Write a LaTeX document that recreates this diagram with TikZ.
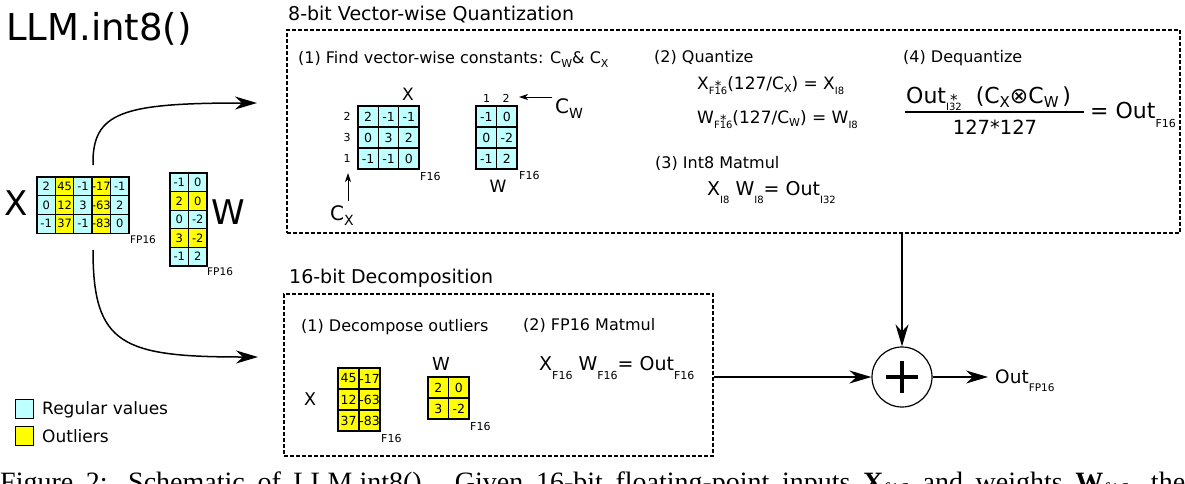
\documentclass[tikz,border=0pt]{standalone}
\usepackage{fontspec}
\setmainfont{DejaVu Sans}
\newfontfamily\capfont{Liberation Serif}
\usetikzlibrary{arrows.meta}
\definecolor{regc}{RGB}{190,255,255}
\definecolor{outc}{RGB}{255,255,0}
\newcommand{\fs}[1]{\fontsize{#1}{#1}\selectfont}
\newsavebox\sbx
\newcommand{\subs}[3]{\raisebox{-#2pt}{\fs{#1}#3}}
\newcommand{\subst}[5]{\sbox{\sbx}{\fs{#1}#3}\rlap{\makebox[\wd\sbx][c]{\raisebox{#5pt}{\fs{#4}*}}}\raisebox{-#2pt}{\usebox{\sbx}}}
\newcommand{\drawmat}[8]{%
  \foreach \v/\cl [count=\i from 0] in {#8} {
    \pgfmathtruncatemacro\cc{mod(\i,#6)}
    \pgfmathtruncatemacro\rr{div(\i,#6)}
    \node[mcell, fill=\cl, minimum width=#4pt, minimum height=#5pt, font=\fs{#7}] (#1-\rr-\cc) at ({#2+(\cc+0.5)*#4},{#3+(\rr+0.5)*#5}) {\v};
  }}
\tikzset{
  mcell/.style={draw, line width=1.1pt, inner sep=0pt, anchor=center},
  txt/.style={anchor=base west, inner sep=0pt},
  txtc/.style={anchor=base, inner sep=0pt},
  dbox/.style={draw, line width=2.5pt, dash pattern=on 4pt off 2pt, inner sep=0pt},
  arr/.style={line width=1.5pt, -{Stealth[length=22pt,width=13pt,inset=7pt]}},
  sarr/.style={line width=1pt, -{Stealth[length=9pt,width=6pt,inset=2.5pt]}},
}
\begin{document}
\begin{tikzpicture}[x=1pt,y=-1pt]
\useasboundingbox (0,0) rectangle (1185,483);
\fill[white] (0,0) rectangle (1185,483);

% title and headings
\node[txt, font=\fs{37}] (title) at (6,40) {LLM.int8()};
\node[txt, font=\fs{19}] (h1) at (288,20) {8-bit Vector-wise Quantization};
\node[txt, font=\fs{19}] (h2) at (289,283) {16-bit Decomposition};

% boxes
\node[dbox, minimum width=893pt, minimum height=203pt] (qbox) at (733.5,131.5) {};
\node[dbox, minimum width=429pt, minimum height=162pt] (dbx) at (498.5,375) {};

% left inputs
\node[txt, font=\fs{34}] (bigx) at (4,215) {X};
\drawmat{lx}{37}{177}{18.4}{18.7}{5}{11.5}{2/regc,45/outc,-1/regc,-17/outc,-1/regc,0/regc,12/outc,3/regc,-63/outc,2/regc,-1/regc,37/outc,-1/regc,-83/outc,0/regc}
\node[txt, font=\fs{10.5}] (lxf) at (130,243) {FP16};
\drawmat{lw}{170}{173}{18.5}{18.6}{2}{11.5}{-1/regc,0/regc,2/outc,0/outc,0/regc,-2/regc,3/outc,-2/outc,-1/regc,2/regc}
\node[txt, font=\fs{34}] (bigw) at (211,224) {W};
\node[txt, font=\fs{10.5}] (lwf) at (207,275) {FP16};

% curved connectors
\coordinate (xtop) at (93,165);
\coordinate (qin) at (257,103);
\coordinate (xbot) at (93,250);
\coordinate (din) at (258,357);
\draw[arr] (xtop) .. controls (92,112) and (122,103) .. (qin);
\draw[arr] (xbot) .. controls (93,345) and (122,357) .. (din);

% legend
\node[draw, line width=1pt, fill=regc, minimum width=18pt, minimum height=19pt, inner sep=0pt] (lg1) at (24,408.5) {};
\node[draw, line width=1pt, fill=outc, minimum width=18pt, minimum height=19pt, inner sep=0pt] (lg2) at (24,435.5) {};
\node[txt, font=\fs{17}] (lg1t) at (42,414) {Regular values};
\node[txt, font=\fs{17}] (lg2t) at (42,442) {Outliers};

% ---- top box contents
\node[txt, font=\fs{16}] (s1) at (298,63) {(1) Find vector-wise constants: C\subs{11}{4}{W}\& C\subs{11}{4}{X}};
\node[txtc, font=\fs{17}] (tx) at (408,100) {X};
\drawmat{tm}{358}{106}{20.33}{21}{3}{12.5}{2/regc,-1/regc,-1/regc,0/regc,3/regc,2/regc,-1/regc,-1/regc,0/regc}
\node[font=\fs{11}, inner sep=0pt] (r1) at (347,116.5) {2};
\node[font=\fs{11}, inner sep=0pt] (r2) at (347,137.5) {3};
\node[font=\fs{11}, inner sep=0pt] (r3) at (347,158.5) {1};
\node[txt, font=\fs{11}] (txf) at (420,180) {F16};
\node[txt, font=\fs{20}] (cx) at (330,220) {C\subs{14}{5}{X}};
\coordinate (cxs) at (348,201);
\draw[sarr] (cxs) -- (348,173);
\drawmat{tw}{476}{106}{20.5}{21}{2}{12.5}{-1/regc,0/regc,0/regc,-2/regc,-1/regc,2/regc}
\node[txtc, font=\fs{11}] (c1) at (486.5,102) {1};
\node[txtc, font=\fs{11}] (c2) at (506,102) {2};
\node[txt, font=\fs{20}] (cw) at (555,113) {C\subs{14}{5}{W}};
\coordinate (cws) at (552,97);
\coordinate (cwe) at (519,97);
\draw[sarr] (cws) -- (cwe);
\node[txtc, font=\fs{17}] (tw) at (498,192) {W};
\node[txt, font=\fs{11}] (twf) at (519,179) {F16};

\node[txt, font=\fs{16}] (s2) at (654,62) {(2) Quantize};
\node[txt, font=\fs{17}] (e1) at (697,89) {X\subst{10}{5}{F16}{13}{-1}(127/C\subs{11}{3}{X}) = X\subs{10}{5}{I8}};
\node[txt, font=\fs{17}] (e2) at (697,123) {W\subst{10}{5}{F16}{13}{-1}(127/C\subs{11}{3}{W}) = W\subs{10}{5}{I8}};
\node[txt, font=\fs{16}] (s3) at (655,168) {(3) Int8 Matmul};
\node[txt, font=\fs{19}] (e3) at (707,195) {X\subs{10}{8}{I8}\ W\subs{10}{8}{I8}= Out\subs{10}{8}{I32}};

\node[txt, font=\fs{16}] (s4) at (903,62) {(4) Dequantize};
\node[txt, font=\fs{22}] (num) at (906,103) {Out\subst{10}{7}{I32}{15}{-2}\ \ (C\subs{15}{4}{X}⊗C\subs{15}{4}{W}\,)};
\draw[line width=1.2pt] (905,112) -- (1084,112);
\node[txtc, font=\fs{19.5}] (den) at (995,134) {127*127};
\node[txt, font=\fs{22}] (rhs) at (1090,118) {= Out\subs{11}{9}{F16}};

% ---- bottom box contents
\node[txt, font=\fs{16}] (d1) at (301,331) {(1) Decompose outliers};
\node[txt, font=\fs{16}] (d2) at (523,330) {(2) FP16 Matmul};
\node[txt, font=\fs{17.5}] (bx) at (304,405) {X};
\drawmat{bm}{338}{368}{21}{21}{2}{12.5}{45/outc,-17/outc,12/outc,-63/outc,37/outc,-83/outc}
\node[txt, font=\fs{11}] (bxf) at (381,442) {F16};
\node[txt, font=\fs{18}] (bw) at (432,370) {W};
\drawmat{bwm}{428}{377}{20.5}{21}{2}{12.5}{2/outc,0/outc,3/outc,-2/outc}
\node[txt, font=\fs{11}] (bwf) at (470,430) {F16};
\node[txt, font=\fs{19}] (e5) at (539,370) {X\subs{11}{9}{F16}\ W\subs{11}{9}{F16}= Out\subs{11}{9}{F16}};

% ---- sum and output
\node[circle, draw, line width=1.2pt, minimum size=60pt, inner sep=0pt,
  path picture={\draw[line width=3.5pt] (path picture bounding box.center) ++(-16pt,0) -- ++(32pt,0);
                \draw[line width=3.5pt] (path picture bounding box.center) ++(0,-16pt) -- ++(0,32pt);}] (plus) at (902,377) {};
\draw[arr] (plus |- qbox.south) -- (plus.north);
\draw[arr] (dbx.east |- plus) -- (plus.west);
\node[txt, font=\fs{18.5}] (out) at (995,383) {Out\subs{10.5}{8}{FP16}};
\coordinate (outin) at (988,377);
\draw[arr] (plus.east) -- (outin);

% caption (cut off at the bottom edge)
\begin{scope}
\clip (0,0) rectangle (1185,483);
\node[txt, font=\capfont\fs{28}] (cap) at (0,491) {\hbox to 1185pt{Figure 2: Schematic of LLM.int8(). Given 16-bit floating-point inputs \textbf{X}\textsubscript{f16} and weights \textbf{W}\textsubscript{f16}, the}};
\end{scope}
\end{tikzpicture}
\end{document}
